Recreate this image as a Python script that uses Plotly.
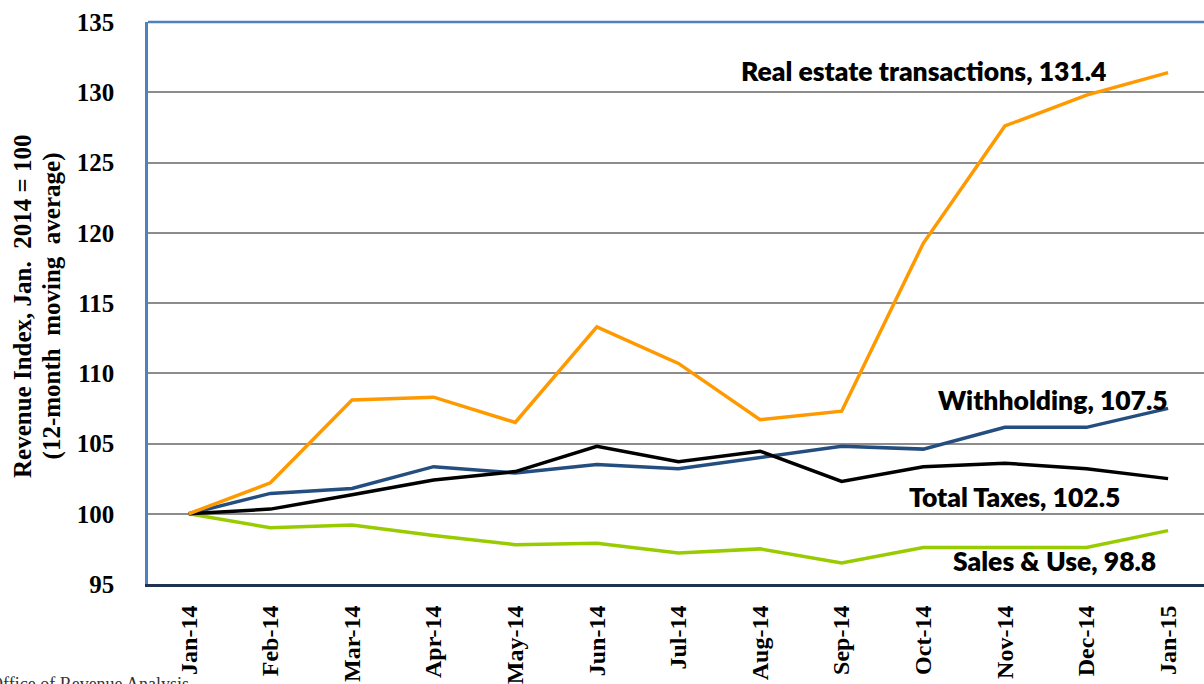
import plotly.graph_objects as go

months = ["Jan-14", "Feb-14", "Mar-14", "Apr-14", "May-14", "Jun-14", "Jul-14",
          "Aug-14", "Sep-14", "Oct-14", "Nov-14", "Dec-14", "Jan-15"]
real_estate = [100.0, 102.2, 108.1, 108.3, 106.5, 113.3, 110.7, 106.7, 107.3, 119.25, 127.6, 129.8, 131.4]
withholding = [100.0, 101.45, 101.8, 103.35, 102.9, 103.5, 103.2, 104.0, 104.8, 104.6, 106.15, 106.15, 107.5]
total_taxes = [100.0, 100.33, 101.35, 102.4, 103.0, 104.8, 103.7, 104.45, 102.3, 103.35, 103.6, 103.2, 102.5]
sales_use = [100.0, 99.0, 99.2, 98.45, 97.8, 97.9, 97.2, 97.5, 96.5, 97.6, 97.6, 97.6, 98.8]
y_ticks = [95, 100, 105, 110, 115, 120, 125, 130, 135]

fig = go.Figure()
series = [
    ("Sales & Use", sales_use, "#99CC00"),
    ("Withholding", withholding, "#254E80"),
    ("Total Taxes", total_taxes, "#000000"),
    ("Real estate transactions", real_estate, "#FF9900"),
]
for name, vals, col in series:
    fig.add_trace(go.Scatter(x=months, y=vals, mode="lines", name=name,
                             line=dict(color=col, width=3.5), showlegend=False))

lab_font = dict(family="Lato", size=26.5, color="#000000", weight=800)
fig.add_annotation(x=9.0, y=131.5, text="Real estate transactions, 131.4", showarrow=False,
                   xanchor="center", yanchor="middle", font=lab_font)
fig.add_annotation(x=12.02, y=108.1, text="Withholding, 107.5", showarrow=False,
                   xanchor="right", yanchor="middle", font=lab_font)
fig.add_annotation(x=10.12, y=101.2, text="Total Taxes, 102.5", showarrow=False,
                   xanchor="center", yanchor="middle", font=lab_font)
fig.add_annotation(x=10.61, y=96.65, text="Sales & Use, 98.8", showarrow=False,
                   xanchor="center", yanchor="middle", font=lab_font)

serif_bold = dict(family="Liberation Serif", size=25, color="#000000", weight="bold")
fig.add_annotation(xref="paper", yref="paper", x=-0.1184, y=0.4947,
                   text="Revenue Index, Jan.  2014 = 100", textangle=-90, showarrow=False,
                   xanchor="center", yanchor="middle", font=serif_bold)
fig.add_annotation(xref="paper", yref="paper", x=-0.0905, y=0.4947,
                   text="(12-month  moving  average)", textangle=-90, showarrow=False,
                   xanchor="center", yanchor="middle", font=serif_bold)
fig.add_annotation(xref="paper", yref="paper", x=-0.1515, y=-0.1566,
                   text="Office of Revenue Analysis", showarrow=False,
                   xanchor="left", yanchor="top",
                   font=dict(family="Liberation Serif", size=18, color="#333333"))

# top border
fig.add_shape(type="line", xref="paper", yref="paper", x0=0, x1=1, y0=1, y1=1,
              line=dict(color="#4F81BD", width=2.5))

fig.update_layout(
    width=1204, height=684,
    margin=dict(l=148, r=0, t=22, b=100),
    plot_bgcolor="white", paper_bgcolor="white",
    xaxis=dict(type="category", range=[-0.5, 12.44], showgrid=False, automargin=False,
               showline=True, linecolor="#1F3350", linewidth=3,
               tickangle=-90, ticks="", ticklabelstandoff=9,
               tickfont=dict(family="Liberation Serif", size=24, color="#000000", weight="bold")),
    yaxis=dict(range=[95, 135], tickvals=y_ticks, showgrid=True, gridcolor="#8C8C8C",
               gridwidth=1.5, zeroline=False, showline=True, linecolor="#4F81BD",
               linewidth=2.5, ticks="", ticklabelstandoff=26, automargin=False,
               tickfont=dict(family="Liberation Serif", size=25, color="#000000", weight="bold")),
)

fig.write_html("out.html")
